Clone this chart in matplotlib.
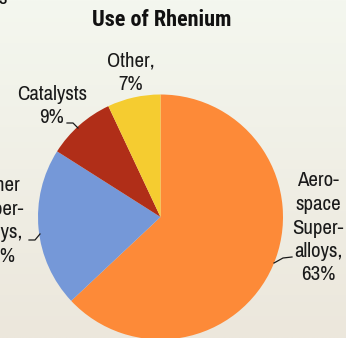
import matplotlib.pyplot as plt
import numpy as np
from matplotlib import font_manager

# Rhenium end uses, share of total (%)
uses = ["Aerospace Superalloys", "Other Superalloys", "Catalysts", "Other"]
shares = [63, 21, 9, 7]
labels = ["Aero-\nspace\nSuper-\nalloys,\n63%", "Other\nSuper-\nalloys,\n21%", "Catalysts\n9%", "Other,\n7%"]
colors = ["#fd8a38", "#7598d8", "#b02e18", "#f5cc30"]

# pick a narrow grotesque if one is around
fonts = font_manager.fontManager.ttflist
names = {f.name for f in fonts}
narrow = ["Liberation Sans Narrow", "Arial Narrow", "Archivo Narrow", "Roboto Condensed",
          "PT Sans Narrow", "Pragati Narrow", "Open Sans Condensed"]
family = next((c for c in narrow if c in names), "DejaVu Sans")
bold_names = {f.name for f in fonts if isinstance(f.weight, int) and f.weight >= 600
              or f.weight in ("bold", "semibold", "demibold")}
title_family = next((c for c in narrow if c in bold_names), family)
plt.rcParams["font.family"] = [family, "DejaVu Sans"]

W, H = 346, 338
fig = plt.figure(figsize=(W / 100, H / 100), dpi=100)
ax = fig.add_axes([0, 0, 1, 1])

# soft vertical background wash
top = np.array([0xf4, 0xf7, 0xef]) / 255
bot = np.array([0xec, 0xe7, 0xdc]) / 255
t = np.linspace(0, 1, 256)[:, None]
grad = top + (bot - top) * t
ax.imshow(grad[:, None, :].repeat(2, axis=1), extent=[0, W, 0, H], aspect="auto", zorder=0)

cx, cy, r = 160.5, H - 217, 122.5
ax.pie(shares, colors=colors, startangle=90, counterclock=False,
       center=(cx, cy), radius=r, wedgeprops=dict(linewidth=0))

ax.set_xlim(0, W)
ax.set_ylim(0, H)
ax.set_aspect("auto")
ax.axis("off")

txt = dict(fontsize=15, color="#1a1a1a", ha="center", va="center", linespacing=1.3)
ax.text(318, H - 228, labels[0], **txt)
ax.text(-2, H - 221, labels[1], **txt)
ax.text(52, H - 106, labels[2], **txt)
ax.text(131, H - 73, labels[3], **txt)

# leader lines
lc = dict(color="#1a1a1a", lw=0.9)
ax.plot([274, 283, 292], [H - 263, H - 258, H - 257], **lc)
ax.plot([67, 73, 78], [H - 123, H - 123, H - 128], **lc)
ax.plot([29, 35, 40], [H - 240, H - 240, H - 234], **lc)

ax.text(162, H - 20, "Use of Rhenium", fontsize=16, fontweight="bold", family=[title_family, "DejaVu Sans"],
        color="#111111", ha="center", va="center")
ax.text(-2, H + 1, "s", fontsize=15, fontweight="bold", color="#111111", ha="left", va="center")

fig.savefig("out.png", dpi=100)
